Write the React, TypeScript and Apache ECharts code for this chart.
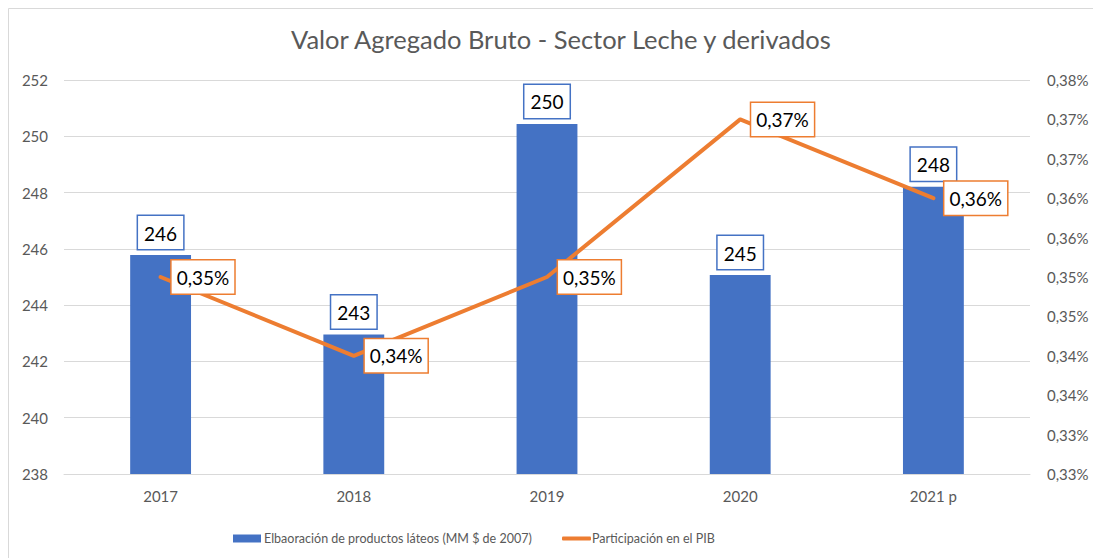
import React, { useEffect, useRef } from "react";
import * as echarts from "echarts";

const title = "Valor Agregado Bruto - Sector Leche y derivados";
const categories = ["2017", "2018", "2019", "2020", "2021 p"];
const barName = "Elbaoración de productos láteos (MM $ de 2007)";
const lineName = "Participación en el PIB";
const barValues = [245.78, 242.96, 250.44, 245.07, 248.21];
const lineValues = [0.35, 0.34, 0.35, 0.37, 0.36]; // percent

const FONT = "Lato, 'Open Sans', sans-serif";
const GREY = "#595959";
const BLUE = "#4472c4";
const ORANGE = "#ed7d31";

export default function App() {
  const ref = useRef<HTMLDivElement>(null);
  useEffect(() => {
    if (!ref.current) return;
    const chart = echarts.init(ref.current, null, { renderer: "svg" });
    const fmtPct = (v: number) =>
      (Math.round(v * 100 + 1e-7) / 100).toFixed(2).replace(".", ",") + "%";
    chart.setOption({
      animation: false,
      backgroundColor: "#ffffff",
      textStyle: { fontFamily: FONT },
      title: {
        text: title,
        left: 286,
        top: 21,
        textStyle: { fontFamily: FONT, fontSize: 25.5, fontWeight: "normal", color: GREY },
      },
      graphic: [
        {
          type: "rect",
          shape: { x: 8.5, y: 8.5, width: 1200, height: 700 },
          style: { fill: "none", stroke: "#d9d9d9", lineWidth: 1 },
          silent: true,
        },
      ],
      grid: { left: 64, right: 63, top: 80, bottom: 84, containLabel: false },
      legend: [
        {
          data: [{ name: barName, icon: "rect" }],
          left: 228,
          top: 527,
          itemWidth: 28,
          itemHeight: 8,
          itemGap: 4,
          textStyle: { fontFamily: FONT, fontSize: 12.5, color: GREY, padding: [0, 0, 0, -2] },
        },
        {
          data: [{ name: lineName, icon: "roundRect", itemStyle: { color: ORANGE } }],
          left: 557,
          top: 527,
          itemWidth: 29,
          itemHeight: 4,
          textStyle: { fontFamily: FONT, fontSize: 12.5, color: GREY, padding: [0, 0, 0, -4] },
        },
      ],
      xAxis: {
        type: "category",
        data: categories,
        axisLine: { show: true, lineStyle: { color: "#d9d9d9" } },
        axisTick: { show: false },
        axisLabel: { color: GREY, fontSize: 15, margin: 14, fontFamily: FONT },
      },
      yAxis: [
        {
          type: "value",
          min: 238,
          max: 252,
          interval: 2,
          axisLine: { show: false },
          axisTick: { show: false },
          splitLine: { lineStyle: { color: "#d9d9d9", width: 1 } },
          axisLabel: { color: GREY, fontSize: 15, margin: 16, fontFamily: FONT },
        },
        {
          type: "value",
          min: 0.325,
          max: 0.375,
          interval: 0.005,
          axisLine: { show: false },
          axisTick: { show: false },
          splitLine: { show: false },
          axisLabel: { color: GREY, fontSize: 15, margin: 17, fontFamily: FONT, formatter: fmtPct },
        },
      ],
      series: [
        {
          name: barName,
          type: "bar",
          data: barValues,
          barWidth: "31.5%",
          itemStyle: { color: BLUE },
          label: {
            show: true,
            position: "top",
            distance: 6,
            formatter: (p: any) => String(Math.round(p.value)),
            color: "#000000",
            fontSize: 19,
            lineHeight: 22,
            fontFamily: FONT,
            backgroundColor: "#ffffff",
            borderColor: BLUE,
            borderWidth: 1.5,
            padding: [6, 6, 5, 6],
          },
        },
        {
          name: lineName,
          type: "line",
          yAxisIndex: 1,
          data: lineValues,
          showSymbol: true,
          symbol: "circle",
          symbolSize: 0.1,
          lineStyle: { color: ORANGE, width: 4, cap: "round", join: "round" },
          itemStyle: { color: ORANGE },
          z: 5,
          label: {
            show: true,
            position: "right",
            distance: 11,
            formatter: (p: any) => fmtPct(p.value),
            color: "#000000",
            fontSize: 19,
            lineHeight: 22,
            fontFamily: FONT,
            backgroundColor: "#ffffff",
            borderColor: ORANGE,
            borderWidth: 1.5,
            padding: [6, 5, 5, 5],
          },
        },
      ],
    });
    return () => chart.dispose();
  }, []);
  return (
    <div
      ref={ref}
      style={{ position: "fixed", left: 0, top: 0, width: 1093, height: 558 }}
    />
  );
}
